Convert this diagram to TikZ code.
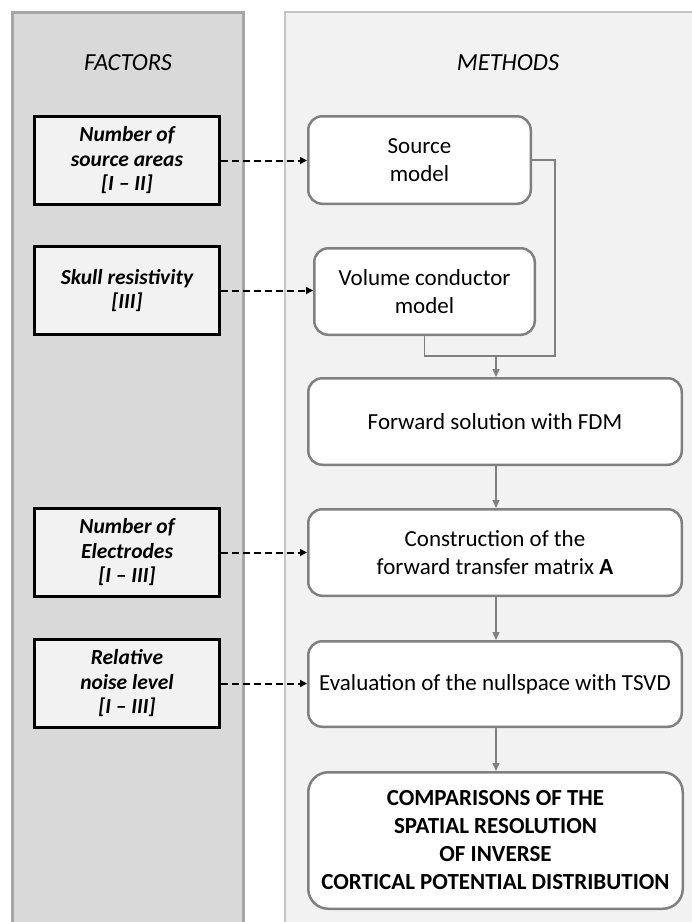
\documentclass[tikz,border=0pt]{standalone}
\usepackage{fontspec}
\setmainfont{Carlito}
\usetikzlibrary{arrows.meta}
\definecolor{leftfill}{HTML}{D9D9D9}
\definecolor{leftedge}{HTML}{A6A6A6}
\definecolor{rightfill}{HTML}{F2F2F2}
\definecolor{rightedge}{HTML}{C4C4C4}
\definecolor{boxedge}{HTML}{808080}
\definecolor{factorfill}{HTML}{F2F2F2}
\begin{document}
\begin{tikzpicture}[x=1pt,y=-1pt,
  title/.style={font=\fontsize{24.5}{29}\selectfont\itshape, inner sep=0pt},
  factorbox/.style={draw=black, line width=3pt, fill=factorfill, align=center,
    minimum width=185pt, minimum height=88pt, inner sep=0pt,
    font=\fontsize{21.5}{24.5}\selectfont\bfseries\itshape},
  methodbox/.style={draw=boxedge, line width=2.5pt, fill=white, rounded corners=14pt,
    align=center, inner sep=0pt, font=\fontsize{23}{28}\selectfont},
  flowline/.style={draw=boxedge, line width=1.3pt},
  flowarrow/.style={flowline, -{Triangle[width=7pt,length=8pt]}},
  dasharrow/.style={draw=black, line width=2pt, dash pattern=on 7pt off 4pt,
    -{Triangle[width=7pt,length=7pt]}}
]
\useasboundingbox (0,0) rectangle (692,922);
\clip (0,0) rectangle (692,922);
% panels
\draw[fill=leftfill, draw=leftedge, line width=3pt] (12,12) rectangle (243,940);
\draw[fill=rightfill, draw=rightedge, line width=2.5pt] (285,12) rectangle (710,940);
% titles
\node[title] (factors) at (128,63) {FACTORS};
\node[title] (methods) at (508,63) {METHODS};
% factor boxes
\node[factorbox] (f1) at (127,160.5) {Number of\\source areas\\{[I – II]}};
\node[factorbox] (f2) at (127,290.5) {Skull resistivity\\{[III]}};
\node[factorbox] (f3) at (127,552.5) {Number of\\Electrodes\\{[I – III]}};
\node[factorbox] (f4) at (127,683.5) {Relative\\noise level\\{[I – III]}};
% method boxes
\node[methodbox, minimum width=222.5pt, minimum height=87.5pt] (source) at (419.5,160) {Source\\model};
\node[methodbox, minimum width=220.5pt, minimum height=86.5pt] (volume) at (424.5,291.5) {Volume conductor\\model};
\node[methodbox, minimum width=373.5pt, minimum height=86.5pt] (forward) at (495,421.5) {Forward solution with FDM};
\node[methodbox, minimum width=373.5pt, minimum height=86.5pt] (construction) at (495,552.5) {Construction of the\\forward transfer matrix \textbf{A}};
\node[methodbox, minimum width=373.5pt, minimum height=85.5pt] (evaluation) at (495,684) {Evaluation of the nullspace with TSVD};
\node[methodbox, rounded corners=20pt, minimum width=374.5pt, minimum height=136.5pt, font=\fontsize{23}{28}\selectfont\bfseries] (comparisons) at (495.5,840.5)
  {COMPARISONS OF THE\\SPATIAL RESOLUTION\\OF INVERSE\\CORTICAL POTENTIAL DISTRIBUTION};
% merge connectors
\coordinate (jr) at (555,356);
\coordinate (jm) at (496,356);
\draw[flowline] (source.east) -| (jr) -- (jm);
\draw[flowline] (volume.south) |- (jr);
\draw[flowarrow] (jm) -- (jm |- forward.north);
\draw[flowarrow] (forward.south -| jm) -- (jm |- construction.north);
\draw[flowarrow] (construction.south -| jm) -- (jm |- evaluation.north);
\draw[flowarrow] (evaluation.south -| jm) -- (jm |- comparisons.north);
% dashed factor arrows
\draw[dasharrow] (f1.east) -- (f1.east -| source.west);
\draw[dasharrow] (f2.east) -- (f2.east -| volume.west);
\draw[dasharrow] (f3.east) -- (f3.east -| construction.west);
\draw[dasharrow] (f4.east) -- (f4.east -| evaluation.west);
\end{tikzpicture}
\end{document}
